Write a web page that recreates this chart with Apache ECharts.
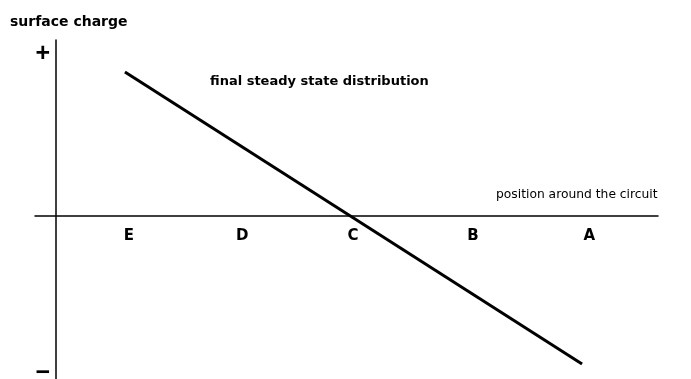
<!DOCTYPE html>
<html><head><meta charset="utf-8">
<script src="https://cdn.jsdelivr.net/npm/echarts@6/dist/echarts.min.js"></script>
<style>html,body{margin:0;padding:0;background:#fff}#c{width:691px;height:379px}</style>
</head><body><div id="c"></div>
<script>
// Data
const categories = ['E', 'D', 'C', 'B', 'A'];
const categoryPositions = [1, 2.01, 3, 4.07, 5.11];
const lineX = [0.964, 5.045];
const lineY = [1.44, -1.48];
const yTickValues = [1.62, -1.57];
const yTickLabels = ['+', '\u2212'];

const font = 'Liberation Sans';
const chart = echarts.init(document.getElementById('c'));
const yMap = {};
yTickValues.forEach((v, i) => yMap[v] = yTickLabels[i]);

chart.setOption({
  animation: false,
  backgroundColor: '#fff',
  grid: { left: 35, right: 33, top: 40, bottom: 0, containLabel: false, outerBoundsMode: 'none' },
  xAxis: {
    type: 'value', min: 0.161, max: 5.723,
    axisLine: { onZero: true, lineStyle: { color: '#000', width: 1.5 } },
    axisTick: { show: false }, splitLine: { show: false },
    axisLabel: { show: false }
  },
  yAxis: {
    type: 'value', min: -1.63, max: 1.76, offset: -21,
    axisLine: { onZero: false, show: true, lineStyle: { color: '#000', width: 1.5 } },
    axisTick: { show: false }, splitLine: { show: false },
    axisLabel: {
      customValues: yTickValues, margin: 6,
      formatter: v => yMap[v] || '',
      color: '#000', fontFamily: font, fontWeight: 'bold', fontSize: 25
    }
  },
  series: [{
    type: 'line', data: lineX.map((x, i) => [x, lineY[i]]),
    symbol: 'none', lineStyle: { color: '#000', width: 3 }
  }, {
    type: 'scatter', symbolSize: 0, silent: true,
    data: categoryPositions.map((x, i) => ({ value: [x, 0], name: categories[i] })),
    label: {
      show: true, position: 'bottom', distance: 13, formatter: p => p.name,
      color: '#000', opacity: 1, fontFamily: 'DejaVu Sans', fontWeight: 'bold', fontSize: 15
    }
  }],
  graphic: [
    { type: 'text', left: 10, top: 15, style: { text: 'surface charge', font: 'bold 14px "DejaVu Sans"', fill: '#000' } },
    { type: 'text', left: 210, top: 75, style: { text: 'final steady state distribution', font: 'bold 13px "DejaVu Sans"', fill: '#000' } },
    { type: 'text', left: 496, top: 189, style: { text: 'position around the circuit', font: '12.3px "DejaVu Sans"', fill: '#000' } }
  ]
});
</script></body></html>
